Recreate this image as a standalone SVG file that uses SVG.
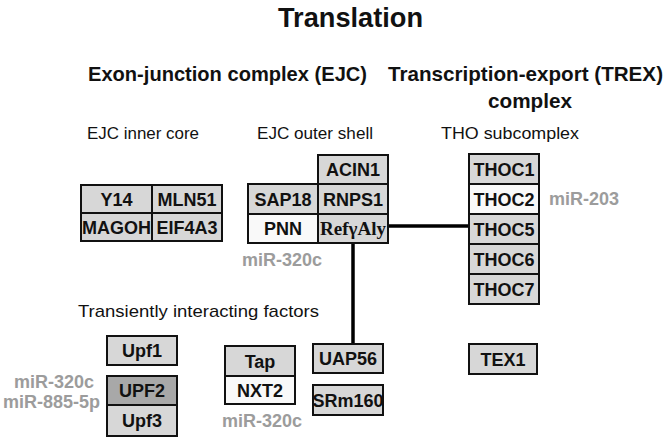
<svg xmlns="http://www.w3.org/2000/svg" width="672" height="441" viewBox="0 0 672 441">
<style>
.bx{fill:#d7d7d7;stroke:#111;stroke-width:2}
.wh{fill:#f9f9f9}
.dk{fill:#a8a8a8}
.lb{font-family:"Liberation Sans",Arial,sans-serif;font-weight:bold;font-size:18px;fill:#111;text-anchor:middle}
.sf{font-family:"Liberation Serif","Times New Roman",serif;font-weight:bold;font-size:19px;fill:#111;text-anchor:middle}
.mi{font-family:"Liberation Sans",Arial,sans-serif;font-weight:bold;font-size:18px;fill:#9c9c9c}
.hd{font-family:"Liberation Sans",Arial,sans-serif;font-weight:bold;font-size:20.5px;fill:#111}
.sb{font-family:"Liberation Sans",Arial,sans-serif;font-size:17px;fill:#111}
.cn{stroke:#000;stroke-width:3.5;fill:none}
</style>
<rect width="672" height="441" fill="#fff"/>
<g id="titles">
<text x="278" y="27" font-family="Liberation Sans,Arial,sans-serif" font-weight="bold" font-size="28" fill="#111" textLength="145" lengthAdjust="spacingAndGlyphs">Translation</text>
<text class="hd" x="88" y="81" textLength="279" lengthAdjust="spacingAndGlyphs">Exon-junction complex (EJC)</text>
<text class="hd" x="388" y="81" textLength="275" lengthAdjust="spacingAndGlyphs">Transcription-export (TREX)</text>
<text class="hd" x="488" y="108" textLength="84" lengthAdjust="spacingAndGlyphs">complex</text>
<text class="sb" x="87" y="139" textLength="112" lengthAdjust="spacingAndGlyphs">EJC inner core</text>
<text class="sb" x="257" y="139" textLength="116" lengthAdjust="spacingAndGlyphs">EJC outer shell</text>
<text class="sb" x="441" y="139" textLength="138" lengthAdjust="spacingAndGlyphs">THO subcomplex</text>
<text class="sb" x="78" y="317" textLength="241" lengthAdjust="spacingAndGlyphs">Transiently interacting factors</text>
</g>
<g id="connectors">
<line class="cn" x1="387" y1="226" x2="469" y2="226"/>
<line class="cn" x1="353" y1="243" x2="353" y2="344"/>
</g>
<g id="Y14"><rect class="bx" x="81" y="185" width="71" height="28"/><text class="lb" x="116.5" y="205.5">Y14</text></g>
<g id="MLN51"><rect class="bx" x="152" y="185" width="70" height="28"/><text class="lb" x="187" y="205.5">MLN51</text></g>
<g id="MAGOH"><rect class="bx" x="81" y="213" width="71" height="28"/><text class="lb" x="116.5" y="233.5">MAGOH</text></g>
<g id="EIF4A3"><rect class="bx" x="152" y="213" width="70" height="28"/><text class="lb" x="187" y="233.5">EIF4A3</text></g>
<g id="ACIN1"><rect class="bx" x="318" y="155" width="70" height="29"/><text class="lb" x="353" y="176">ACIN1</text></g>
<g id="SAP18"><rect class="bx" x="248" y="184" width="70" height="30"/><text class="lb" x="283" y="205.5">SAP18</text></g>
<g id="RNPS1"><rect class="bx" x="318" y="184" width="70" height="30"/><text class="lb" x="353" y="205.5">RNPS1</text></g>
<g id="PNN"><rect class="bx wh" x="248" y="214" width="70" height="29"/><text class="lb" x="283" y="235">PNN</text><text class="mi" x="242" y="266">miR-320c</text></g>
<g id="RefAly"><rect class="bx" x="318" y="214" width="70" height="29"/><text class="sf" x="353" y="235">RefγAly</text></g>
<g id="THOC1"><rect class="bx" x="469" y="154" width="70" height="30"/><text class="lb" x="504" y="175.5">THOC1</text></g>
<g id="THOC2"><rect class="bx wh" x="469" y="184" width="70" height="30"/><text class="lb" x="504" y="205.5">THOC2</text><text class="mi" x="549" y="205">miR-203</text></g>
<g id="THOC5"><rect class="bx" x="469" y="214" width="70" height="30"/><text class="lb" x="504" y="235.5">THOC5</text></g>
<g id="THOC6"><rect class="bx" x="469" y="244" width="70" height="30"/><text class="lb" x="504" y="265.5">THOC6</text></g>
<g id="THOC7"><rect class="bx" x="469" y="274" width="70" height="30"/><text class="lb" x="504" y="295.5">THOC7</text></g>
<g id="TEX1"><rect class="bx" x="469" y="344" width="68" height="30"/><text class="lb" x="503" y="365.5">TEX1</text></g>
<g id="UAP56"><rect class="bx" x="313" y="344" width="70" height="29"/><text class="lb" x="348" y="365">UAP56</text></g>
<g id="SRm160"><rect class="bx" x="313" y="385" width="70" height="30"/><text class="lb" x="348" y="406.5">SRm160</text></g>
<g id="Tap"><rect class="bx" x="225" y="346" width="70" height="30"/><text class="lb" x="260" y="367.5">Tap</text></g>
<g id="NXT2"><rect class="bx wh" x="225" y="376" width="70" height="28"/><text class="lb" x="260" y="396.5">NXT2</text><text class="mi" x="222" y="427">miR-320c</text></g>
<g id="Upf1"><rect class="bx" x="107" y="336" width="70" height="29"/><text class="lb" x="142" y="357">Upf1</text></g>
<g id="UPF2"><rect class="bx dk" x="107" y="376" width="70" height="29"/><text class="lb" x="142" y="397">UPF2</text><text class="mi" x="14" y="388">miR-320c</text><text class="mi" x="3" y="408">miR-885-5p</text></g>
<g id="Upf3"><rect class="bx" x="107" y="405" width="70" height="31"/><text class="lb" x="142" y="427">Upf3</text></g>
</svg>
